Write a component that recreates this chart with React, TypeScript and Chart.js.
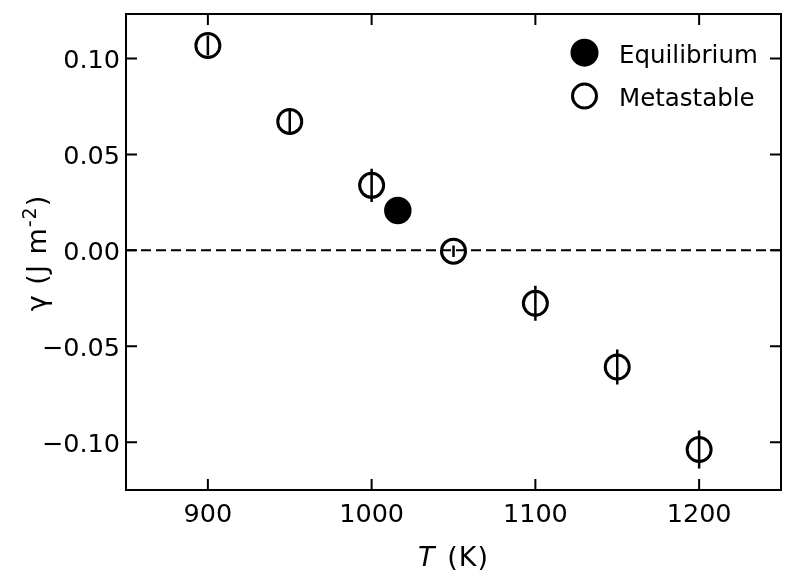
import { useEffect, useRef } from "react";
import { Chart, registerables } from "chart.js";

Chart.register(...registerables);

// data
const metastableT = [900, 950, 1000, 1050, 1100, 1150, 1200];
const metastableGamma = [0.1068, 0.0672, 0.0339, -0.0004, -0.0276, -0.0608, -0.1038];
const metastableErr = [0.0052, 0.0065, 0.0087, 0.003, 0.0091, 0.0091, 0.0099];
const equilibriumT = [1016];
const equilibriumGamma = [0.0208];
const zeroLineT = [850, 1250];
const zeroLineGamma = [0, 0];
const xTicks = [900, 1000, 1100, 1200];
const yTicks = [-0.1, -0.05, 0, 0.05, 0.1];
const legendLabels = ["Equilibrium", "Metastable"];

const FONT = '"DejaVu Sans", Verdana, sans-serif';
const TICK_SIZE = 25.5;
const LEGEND_SIZE = 24.5;
const TITLE_SIZE = 27;

const decorPlugin = {
  id: "decor",
  afterDatasetsDraw(chart: any) {
    const { ctx, chartArea: a, scales } = chart;
    const xs = scales.x;
    const ys = scales.y;
    ctx.save();
    ctx.strokeStyle = "#000";
    ctx.fillStyle = "#000";

    // error bars
    ctx.lineWidth = 2.5;
    ctx.beginPath();
    metastableT.forEach((t, i) => {
      const px = xs.getPixelForValue(t);
      ctx.moveTo(px, ys.getPixelForValue(metastableGamma[i] - metastableErr[i]));
      ctx.lineTo(px, ys.getPixelForValue(metastableGamma[i] + metastableErr[i]));
    });
    ctx.stroke();

    // frame + inward ticks
    ctx.lineWidth = 2;
    ctx.strokeRect(a.left, a.top, a.right - a.left, a.bottom - a.top);
    const tl = 11;
    ctx.beginPath();
    xTicks.forEach((v) => {
      const p = xs.getPixelForValue(v);
      ctx.moveTo(p, a.bottom);
      ctx.lineTo(p, a.bottom - tl);
      ctx.moveTo(p, a.top);
      ctx.lineTo(p, a.top + tl);
    });
    yTicks.forEach((v) => {
      const p = ys.getPixelForValue(v);
      ctx.moveTo(a.left, p);
      ctx.lineTo(a.left + tl, p);
      ctx.moveTo(a.right, p);
      ctx.lineTo(a.right - tl, p);
    });
    ctx.stroke();

    // legend
    const lx = a.right - 196.5;
    const tx = a.right - 162;
    const rows = [a.top + 48.7, a.top + 92];
    ctx.font = `${LEGEND_SIZE}px ${FONT}`;
    ctx.textBaseline = "alphabetic";
    ctx.textAlign = "left";
    rows.forEach((base, i) => {
      ctx.beginPath();
      ctx.arc(lx, base - 10, i === 0 ? 12.5 : 12, 0, Math.PI * 2);
      ctx.lineWidth = 3;
      if (i === 0) ctx.fill();
      ctx.stroke();
      ctx.fillText(legendLabels[i], tx, base);
    });

    // axis titles
    (ctx as any).letterSpacing = "1px";
    const cx = (a.left + a.right) / 2;
    const italic = `italic ${TITLE_SIZE}px ${FONT}`;
    const normal = `${TITLE_SIZE}px ${FONT}`;
    ctx.font = italic;
    const wT = ctx.measureText("T").width + 2;
    ctx.font = normal;
    const wRest = ctx.measureText(" (K)").width;
    const x0 = cx - (wT + wRest) / 2;
    ctx.font = italic;
    ctx.fillText("T", x0, 566);
    ctx.font = normal;
    ctx.fillText(" (K)", x0 + wT, 566);

    // y title: γ (J m^-2)
    const cy = (a.top + a.bottom) / 2 + 1;
    const small = `${Math.round(TITLE_SIZE * 0.7)}px ${FONT}`;
    ctx.font = normal;
    const w1 = ctx.measureText("\u03b3 (J m").width;
    const w3 = ctx.measureText(")").width;
    ctx.font = small;
    const w2 = ctx.measureText("-2").width;
    ctx.translate(46, cy);
    ctx.rotate(-Math.PI / 2);
    let sx = -(w1 + w2 + w3) / 2;
    ctx.font = normal;
    ctx.fillText("\u03b3 (J m", sx, 0);
    sx += w1;
    ctx.font = small;
    ctx.fillText("-2", sx, -TITLE_SIZE * 0.38);
    sx += w2;
    ctx.font = normal;
    ctx.fillText(")", sx, 0);

    ctx.restore();
  },
};

const noPadding = (s: any) => {
  s.paddingTop = 0;
  s.paddingBottom = 0;
  s.paddingLeft = 0;
  s.paddingRight = 0;
};

function GammaChart() {
  const canvasRef = useRef<HTMLCanvasElement>(null);
  const chartRef = useRef<Chart | null>(null);

  useEffect(() => {
    document.body.style.margin = "0";
    if (!canvasRef.current) return;
    if (chartRef.current) chartRef.current.destroy();

    const tickFont = { family: FONT, size: TICK_SIZE };

    chartRef.current = new Chart(canvasRef.current, {
      type: "scatter",
      data: {
        datasets: [
          {
            label: legendLabels[0],
            data: equilibriumT.map((t, i) => ({ x: t, y: equilibriumGamma[i] })),
            pointRadius: 12.5,
            pointBorderWidth: 2.5,
            pointBackgroundColor: "#000",
            pointBorderColor: "#000",
            order: 1,
          },
          {
            label: legendLabels[1],
            data: metastableT.map((t, i) => ({ x: t, y: metastableGamma[i] })),
            pointRadius: 12,
            pointBorderWidth: 3,
            pointBackgroundColor: "rgba(0,0,0,0)",
            pointBorderColor: "#000",
            order: 1,
          },
          {
            type: "line",
            label: "zero",
            data: zeroLineT.map((t, i) => ({ x: t, y: zeroLineGamma[i] })),
            borderColor: "#000",
            borderWidth: 2,
            borderDash: [10, 5],
            pointRadius: 0,
            showLine: true,
            order: 2,
          } as any,
        ],
      },
      options: {
        responsive: false,
        animation: false,
        devicePixelRatio: 1,
        layout: { autoPadding: false, padding: { top: 14, right: 8, left: 0, bottom: 0 } },
        plugins: { legend: { display: false }, tooltip: { enabled: false } },
        scales: {
          x: {
            type: "linear",
            min: 850,
            max: 1250,
            afterFit: (s: any) => {
              s.height = 90;
              noPadding(s);
            },
            afterBuildTicks: (s: any) => {
              s.ticks = xTicks.map((v) => ({ value: v }));
            },
            ticks: {
              font: tickFont,
              color: "#000",
              padding: 10,
              maxRotation: 0,
              callback: (v: any) => String(Math.round(Number(v))),
            },
            grid: { display: false, drawTicks: false },
            border: { display: false },
          },
          y: {
            type: "linear",
            min: -0.1249,
            max: 0.1232,
            afterFit: (s: any) => {
              s.width = 126;
              noPadding(s);
            },
            afterBuildTicks: (s: any) => {
              s.ticks = yTicks.map((v) => ({ value: v }));
            },
            ticks: {
              font: tickFont,
              color: "#000",
              padding: 6,
              labelOffset: 3,
              callback: (v: any) => {
                const n = Number(v);
                const s = Math.abs(n).toFixed(2);
                return n < -1e-9 ? "\u2212" + s : s;
              },
            },
            grid: { display: false, drawTicks: false },
            border: { display: false },
          },
        },
      },
      plugins: [decorPlugin],
    });

    return () => {
      if (chartRef.current) {
        chartRef.current.destroy();
        chartRef.current = null;
      }
    };
  }, []);

  return (
    <div style={{ width: 789, height: 580, background: "#fff" }}>
      <canvas ref={canvasRef} width={789} height={580} />
    </div>
  );
}

export default function App() {
  return <GammaChart />;
}
